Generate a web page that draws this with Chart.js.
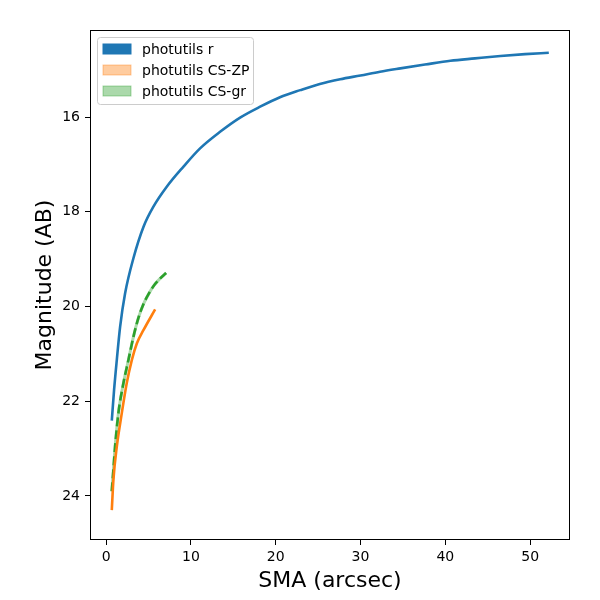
<!DOCTYPE html>
<html>
<head>
<meta charset="utf-8">
<script src="https://cdn.jsdelivr.net/npm/chart.js@4.4.1/dist/chart.umd.min.js"></script>
<style>
  body { margin: 0; background: #fff; }
  #wrap { width: 600px; height: 600px; }
</style>
</head>
<body>
<div id="wrap"><canvas id="profileChart" width="600" height="600"></canvas></div>
<script>
// surface brightness profiles
const rSma = [0.67, 0.94, 1.26, 1.65, 2.24, 3.22, 4.4, 5.58, 7.15, 9.1, 11.08, 13.44, 15.8, 18.16, 20.5, 22.9, 25.2, 27.6, 30.0, 32.3, 34.7, 37.6, 40.6, 43.5, 46.5, 49.4, 52.2];
const rMag = [22.41, 21.76, 21.13, 20.43, 19.72, 18.98, 18.32, 17.89, 17.47, 17.05, 16.66, 16.31, 16.01, 15.78, 15.58, 15.43, 15.30, 15.20, 15.12, 15.04, 14.97, 14.89, 14.81, 14.76, 14.71, 14.67, 14.64];

const zpSma = [0.67, 0.86, 1.26, 1.85, 2.43, 3.03, 3.62, 4.4, 5.78];
const zpMag = [24.3, 23.66, 22.96, 22.25, 21.62, 21.13, 20.78, 20.5, 20.06];

const grSma = [0.67, 0.86, 1.06, 1.45, 2.04, 2.63, 3.22, 3.81, 4.4, 5.0, 5.58, 6.3, 7.08];
const grMag = [23.9, 23.45, 22.96, 22.25, 21.62, 21.13, 20.64, 20.24, 19.95, 19.74, 19.57, 19.42, 19.29];

const xTicks = [0, 10, 20, 30, 40, 50];
const yTicks = [16, 18, 20, 22, 24];

const seriesNames = ["photutils r", "photutils CS-ZP", "photutils CS-gr"];

function pts(xs, ys) {
  return xs.map((x, i) => ({ x: x, y: ys[i] }));
}

Chart.defaults.font.family = "'DejaVu Sans', sans-serif";
Chart.defaults.color = "#000";

// box round the plot, like matplotlib spines
const frame = {
  id: "frame",
  afterDraw(chart) {
    const a = chart.chartArea;
    const ctx = chart.ctx;
    ctx.save();
    ctx.strokeStyle = "#000";
    ctx.lineWidth = 1;
    ctx.strokeRect(a.left + 0.5, a.top + 0.5, a.right - a.left - 1, a.bottom - a.top - 1);
    ctx.restore();
  }
};

// legend drawn inside the axes, upper left
const innerLegend = {
  id: "innerLegend",
  afterDraw(chart) {
    const ctx = chart.ctx;
    const a = chart.chartArea;
    const items = chart.data.datasets.filter(d => d.patch);
    const x0 = a.left + 7, y0 = a.top + 7;
    const w = 156, h = 67;
    ctx.save();
    ctx.beginPath();
    ctx.roundRect(x0 + 0.5, y0 + 0.5, w, h, 3);
    ctx.fillStyle = "rgba(255,255,255,0.8)";
    ctx.fill();
    ctx.strokeStyle = "#cccccc";
    ctx.lineWidth = 1;
    ctx.stroke();
    ctx.font = "14px 'DejaVu Sans'";
    ctx.textBaseline = "middle";
    items.forEach((d, i) => {
      const cy = y0 + 12 + i * 21;
      ctx.fillStyle = d.patch;
      ctx.fillRect(x0 + 6, cy - 5, 28, 10);
      ctx.strokeStyle = d.patch;
      ctx.strokeRect(x0 + 6, cy - 5, 28, 10);
      ctx.fillStyle = "#000";
      ctx.fillText(d.label, x0 + 45, cy + 1);
    });
    ctx.restore();
  }
};

const config = {
  type: "line",
  data: {
    datasets: [
      {
        label: seriesNames[0],
        data: pts(rSma, rMag),
        borderColor: "#1f77b4",
        borderWidth: 2.6,
        patch: "#1f77b4"
      },
      {
        label: seriesNames[1],
        data: pts(zpSma, zpMag),
        borderColor: "#ff7f0e",
        borderWidth: 2.6,
        patch: "rgba(255,127,14,0.4)"
      },
      {
        label: seriesNames[2] + " band",
        data: pts(grSma, grMag),
        borderColor: "rgba(44,160,44,0.4)",
        borderWidth: 3
      },
      {
        label: seriesNames[2],
        data: pts(grSma, grMag),
        borderColor: "#2ca02c",
        borderWidth: 2.6,
        borderDash: [9, 4],
        patch: "rgba(44,160,44,0.4)"
      }
    ]
  },
  options: {
    responsive: false,
    animation: false,
    layout: { padding: { top: 30, right: 30, left: 0, bottom: 0 } },
    elements: {
      point: { radius: 0 },
      line: { cubicInterpolationMode: "monotone", fill: false }
    },
    plugins: {
      legend: { display: false },
      tooltip: { enabled: false }
    },
    scales: {
      x: {
        type: "linear",
        min: -1.9,
        max: 54.7,
        afterBuildTicks: (scale) => { scale.ticks = xTicks.map(v => ({ value: v })); },
        afterFit: (scale) => { scale.height = 60; },
        grid: { drawOnChartArea: false, drawTicks: true, tickLength: 5, color: "#000" },
        border: { display: false },
        ticks: { font: { size: 14 }, padding: 4, maxRotation: 0, autoSkip: false },
        title: { display: true, text: "SMA (arcsec)", font: { size: 22 }, padding: { top: 0, bottom: 6 } }
      },
      y: {
        type: "linear",
        reverse: true,
        min: 14.16,
        max: 24.93,
        afterBuildTicks: (scale) => { scale.ticks = yTicks.map(v => ({ value: v })); },
        afterFit: (scale) => { scale.width = 90; },
        grid: { drawOnChartArea: false, drawTicks: true, tickLength: 5, color: "#000" },
        border: { display: false },
        ticks: { font: { size: 14 }, padding: 5, autoSkip: false },
        title: { display: true, text: "Magnitude (AB)", font: { size: 22 }, padding: { top: 32, bottom: 0 } }
      }
    }
  },
  plugins: [frame, innerLegend]
};

const profileChart = new Chart(document.getElementById("profileChart"), config);
</script>
</body>
</html>
